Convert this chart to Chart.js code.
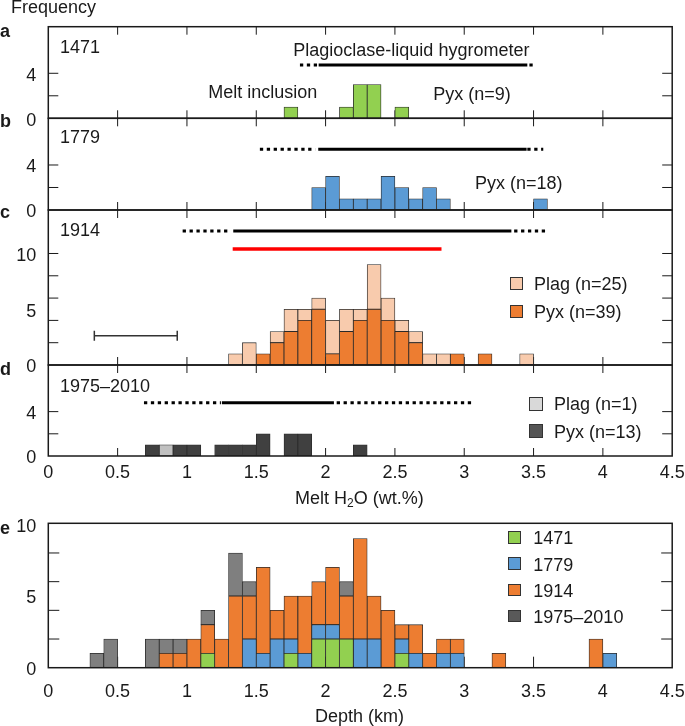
<!DOCTYPE html>
<html>
<head>
<meta charset="utf-8">
<script src="https://cdn.jsdelivr.net/npm/chart.js@4.4.1/dist/chart.umd.min.js"></script>
<style>
  html, body { margin: 0; background: #fff; }
  #wrap { position: relative; width: 685px; height: 726px; overflow: hidden;
          font-family: "Liberation Sans", Arial, Helvetica, sans-serif; color: #1a1a1a; }
  #wrap canvas { position: absolute; left: 0; }
  .t { position: absolute; font-size: 18px; line-height: 18px; white-space: nowrap; }
  .t.b { font-weight: bold; }
  .t sub { font-size: 12px; line-height: 0; vertical-align: -3px; }
  .sq { position: absolute; border: 1px solid #333; box-sizing: border-box; }
</style>
</head>
<body>
<div id="wrap"></div>
<script>
// histogram bins are 0.1 wide, x = bin centre, n = count

// a: 1471, pyroxene
const x1471 = [1.75, 2.15, 2.25, 2.35, 2.55];
const n1471 = [1, 1, 3, 3, 1];
// b: 1779, pyroxene
const x1779 = [1.95, 2.05, 2.15, 2.25, 2.35, 2.45, 2.55, 2.65, 2.75, 2.85, 3.55];
const n1779 = [2, 3, 1, 1, 1, 3, 2, 1, 2, 1, 1];
// c: 1914
const x1914Pyx = [1.55, 1.65, 1.75, 1.85, 1.95, 2.05, 2.15, 2.25, 2.35, 2.45, 2.55, 2.65, 2.95, 3.15];
const n1914Pyx = [1, 2, 3, 4, 5, 1, 3, 4, 5, 4, 3, 2, 1, 1];
const x1914Plag = [1.35, 1.45, 1.65, 1.75, 1.85, 1.95, 2.05, 2.15, 2.25, 2.35, 2.45, 2.55, 2.65, 2.75, 2.85, 3.45];
const n1914Plag = [1, 2, 1, 2, 1, 1, 3, 2, 1, 4, 2, 1, 1, 1, 1, 1];
// d: 1975-2010
const xRecentPyx = [0.75, 0.95, 1.05, 1.25, 1.35, 1.45, 1.55, 1.75, 1.85, 2.25];
const nRecentPyx = [1, 1, 1, 1, 1, 1, 2, 2, 2, 1];
const xRecentPlag = [0.85];
const nRecentPlag = [1];

// e: depth (km), stacked by eruption
const dx1471 = [1.15, 1.75, 1.95, 2.05, 2.15, 2.55];
const dn1471 = [1, 1, 2, 2, 2, 1];
const dx1779 = [1.45, 1.55, 1.65, 1.75, 1.85, 1.95, 2.05, 2.25, 2.35, 2.55, 2.65, 2.85, 2.95, 4.05];
const dn1779 = [2, 1, 2, 1, 1, 1, 1, 2, 2, 1, 1, 1, 1, 1];
const dx1914 = [0.85, 0.95, 1.05, 1.15, 1.25, 1.35, 1.45, 1.55, 1.65, 1.75, 1.85, 1.95,
                2.05, 2.15, 2.25, 2.35, 2.45, 2.55, 2.65, 2.75, 2.85, 2.95, 3.25, 3.95];
const dn1914 = [1, 1, 2, 2, 2, 5, 3, 6, 2, 3, 4, 3, 4, 3, 7, 3, 4, 1, 2, 1, 1, 1, 1, 2];
const dxRecent = [0.35, 0.45, 0.75, 0.85, 0.95, 1.15, 1.35, 1.45, 2.15];
const dnRecent = [1, 2, 2, 1, 1, 1, 3, 1, 1];

// plagioclase-liquid hygrometer ranges (wt.%): dotted and solid parts, and their height in counts
const hygA = { dot: [[1.815, 1.94], [3.47, 3.51]], solid: [[1.95, 3.455]], lvl: 4.74 };
const hygB = { dot: [[1.526, 1.925], [3.455, 3.57]], solid: [[1.947, 3.45]], lvl: 5.4 };
const hygC = { dot: [[0.969, 1.30], [3.36, 3.594]], solid: [[1.334, 3.34]], lvl: 12.02 };
const hygD = { dot: [[0.69, 1.245], [2.08, 3.06]], solid: [[1.252, 2.06]], lvl: 4.8 };
const redC = [1.33, 2.836, 10.4];     // red range in c
const errC = [0.332, 0.93, 2.63];     // error bar in c

const xTickLabels = [0, 0.5, 1, 1.5, 2, 2.5, 3, 3.5, 4, 4.5];

const FONT = '"Liberation Sans", Arial, Helvetica, sans-serif';
const INK = "#1a1a1a";
const EDGE = "#2a2a2a";
const GREEN = "#92d050", BLUE = "#5b9bd5", ORANGE = "#ed7d31", PEACH = "#f8cbad";
const DARK = "#404040", LIGHT = "#c0c0c0", GREY = "#7f7f7f";
const BOX_L = 48.3, BOX_R = 672.2;

const wrap = document.getElementById("wrap");

function bars(xs, ns, color) {
  return {
    type: "bar", stack: "h",
    data: xs.map((x, i) => ({ x: x, y: ns[i] })),
    backgroundColor: color, borderColor: EDGE, borderWidth: 0.8, borderSkipped: false,
    barPercentage: 1, categoryPercentage: 1,
  };
}

let segN = 0;
function seg(x0, x1, lvl, extra) {
  return Object.assign({
    type: "line", stack: "s" + (segN++),
    data: [{ x: x0, y: lvl }, { x: x1, y: lvl }],
    borderColor: "#000", borderWidth: 3, borderCapStyle: "butt", pointRadius: 0,
  }, extra || {});
}
function hyg(h) {
  return h.dot.map((d) => seg(d[0], d[1], h.lvl, { borderDash: [3.3, 3.6] }))
    .concat(h.solid.map((s) => seg(s[0], s[1], h.lvl)));
}

// box, inward tick marks and tick labels, all placed through the chart scales
const frame = {
  id: "frame",
  beforeDatasetsDraw(chart, args, o) {
    const { ctx, chartArea: a, scales: { x, y } } = chart;
    ctx.save();
    ctx.strokeStyle = INK; ctx.lineWidth = 1;
    ctx.beginPath();
    x.ticks.forEach((t) => {
      if (t.value <= 0 || t.value >= 4.5) return;
      const px = x.getPixelForValue(t.value);
      if (o.top) { ctx.moveTo(px, a.top); ctx.lineTo(px, a.top + o.xLen); }
      ctx.moveTo(px, a.bottom); ctx.lineTo(px, a.bottom - o.xLen);
    });
    y.ticks.forEach((t) => {
      if (t.value <= 0 || t.value > o.yTickMax) return;
      const py = y.getPixelForValue(t.value);
      ctx.moveTo(a.left, py); ctx.lineTo(a.left + o.yLen, py);
      ctx.moveTo(a.right, py); ctx.lineTo(a.right - o.yLen, py);
    });
    ctx.stroke();
    ctx.restore();
  },
  afterDatasetsDraw(chart, args, o) {
    const { ctx, chartArea: a, scales: { x, y } } = chart;
    ctx.save();
    ctx.strokeStyle = INK; ctx.lineWidth = 1.5;
    ctx.strokeRect(a.left, a.top, a.right - a.left, a.bottom - a.top);
    ctx.fillStyle = INK;
    ctx.font = "18px " + FONT;
    ctx.textBaseline = "middle";
    ctx.textAlign = "right";
    o.yLabels.forEach((v) => ctx.fillText(String(v), a.left - 12, y.getPixelForValue(v) + 2.5));
    if (o.xLabelGap) {
      ctx.textAlign = "center";
      xTickLabels.forEach((v) => ctx.fillText(String(v), x.getPixelForValue(v), a.bottom + o.xLabelGap));
    }
    ctx.restore();
  },
};

function panel(p) {
  const cv = document.createElement("canvas");
  const top = Math.floor(p.top) - 14;
  const h = Math.ceil(p.bottom) + (p.xLabelGap ? 40 : 14) - top;
  cv.width = 685; cv.height = h;
  cv.style.top = top + "px";
  wrap.appendChild(cv);
  return new Chart(cv, {
    type: "bar",
    data: { datasets: p.datasets },
    options: {
      responsive: false, animation: false, events: [], devicePixelRatio: 1,
      layout: {
        autoPadding: false,
        padding: { left: BOX_L, right: 685 - BOX_R, top: p.top - top, bottom: top + h - p.bottom },
      },
      plugins: {
        legend: { display: false }, tooltip: { enabled: false },
        frame: { top: p.xTop, xLen: p.xLen, yLen: p.yLen, yTickMax: p.yTickMax,
                 yLabels: p.yLabels, xLabelGap: p.xLabelGap || 0 },
      },
      scales: {
        x: { type: "linear", min: 0, max: 4.5, offset: false, stacked: true, display: false,
             ticks: { stepSize: 0.5 } },
        y: { min: 0, max: p.ymax, stacked: true, display: false, ticks: { stepSize: 1 } },
      },
    },
    plugins: [frame],
  });
}

panel({ top: 26.7, bottom: 118.3, ymax: 8.14, yTickMax: 4, yLabels: [0, 4], xTop: true, xLen: 8, yLen: 10,
  datasets: [bars(x1471, n1471, GREEN)].concat(hyg(hygA)) });
panel({ top: 118.3, bottom: 210, ymax: 8.15, yTickMax: 4, yLabels: [0, 4], xTop: true, xLen: 8, yLen: 10,
  datasets: [bars(x1779, n1779, BLUE)].concat(hyg(hygB)) });
panel({ top: 210, bottom: 365, ymax: 13.9, yTickMax: 10, yLabels: [0, 5, 10], xTop: true, xLen: 8, yLen: 10,
  datasets: [bars(x1914Pyx, n1914Pyx, ORANGE), bars(x1914Plag, n1914Plag, PEACH)]
    .concat(hyg(hygC))
    .concat([
      seg(redC[0], redC[1], redC[2], { borderColor: "#ff0000", borderWidth: 3.5 }),
      seg(errC[0], errC[1], errC[2], { borderColor: "#333", borderWidth: 1.5, pointRadius: 5,
        pointStyle: "line", pointRotation: 90, pointBorderColor: "#333", pointBorderWidth: 1.5 }),
    ]) });
panel({ top: 365, bottom: 456, ymax: 8.2, yTickMax: 4, yLabels: [0, 4], xTop: true, xLen: 8, yLen: 10, xLabelGap: 17.5,
  datasets: [bars(xRecentPyx, nRecentPyx, DARK), bars(xRecentPlag, nRecentPlag, LIGHT)].concat(hyg(hygD)) });
panel({ top: 523.3, bottom: 667.7, ymax: 10.07, yTickMax: 10, yLabels: [0, 5, 10], xTop: false, xLen: 11, yLen: 11, xLabelGap: 24,
  datasets: [bars(dx1471, dn1471, GREEN), bars(dx1779, dn1779, BLUE), bars(dx1914, dn1914, ORANGE), bars(dxRecent, dnRecent, GREY)] });

// texts, positioned by baseline
function txt(html, left, base, cls) {
  const d = document.createElement("div");
  d.className = "t" + (cls ? " " + cls : "");
  d.innerHTML = html;
  d.style.left = left + "px";
  d.style.top = (base - 15.2) + "px";
  wrap.appendChild(d);
}
function sq(left, top, size, color) {
  const d = document.createElement("div");
  d.className = "sq";
  Object.assign(d.style, { left: left + "px", top: top + "px", width: size + "px", height: size + "px", background: color });
  wrap.appendChild(d);
}

txt("Frequency", 11, 13.3);
txt("a", 0, 37.3, "b"); txt("b", 0, 127.3, "b"); txt("c", 0, 218.3, "b");
txt("d", 0, 375, "b"); txt("e", 0, 534.3, "b");

txt("1471", 60, 52.7);
txt("Plagioclase-liquid hygrometer", 293.3, 56);
txt("Melt inclusion", 208.3, 97.7);
txt("Pyx (n=9)", 433.3, 100);

txt("1779", 60, 143.3);
txt("Pyx (n=18)", 475, 189);

txt("1914", 60, 236.5);
sq(510, 277, 13, PEACH); txt("Plag (n=25)", 534, 290);
sq(510, 305, 13, ORANGE); txt("Pyx (n=39)", 534, 317.7);

txt("1975\u20132010", 60, 391.7);
sq(529, 397, 14, "#d9d9d9"); txt("Plag (n=1)", 554, 410);
sq(529, 424, 14, "#555555"); txt("Pyx (n=13)", 554, 437.7);

txt("Melt H<sub>2</sub>O (wt.%)", 295, 504);

sq(508.3, 531, 12.5, GREEN); txt("1471", 533.3, 544.3);
sq(508.3, 557, 12.5, BLUE); txt("1779", 533.3, 570.7);
sq(508.3, 583.5, 12.5, ORANGE); txt("1914", 533.3, 596.7);
sq(508.3, 609.5, 12.5, "#595959"); txt("1975\u20132010", 533.3, 622.7);

txt("Depth (km)", 315, 721.7);
</script>
</body>
</html>
